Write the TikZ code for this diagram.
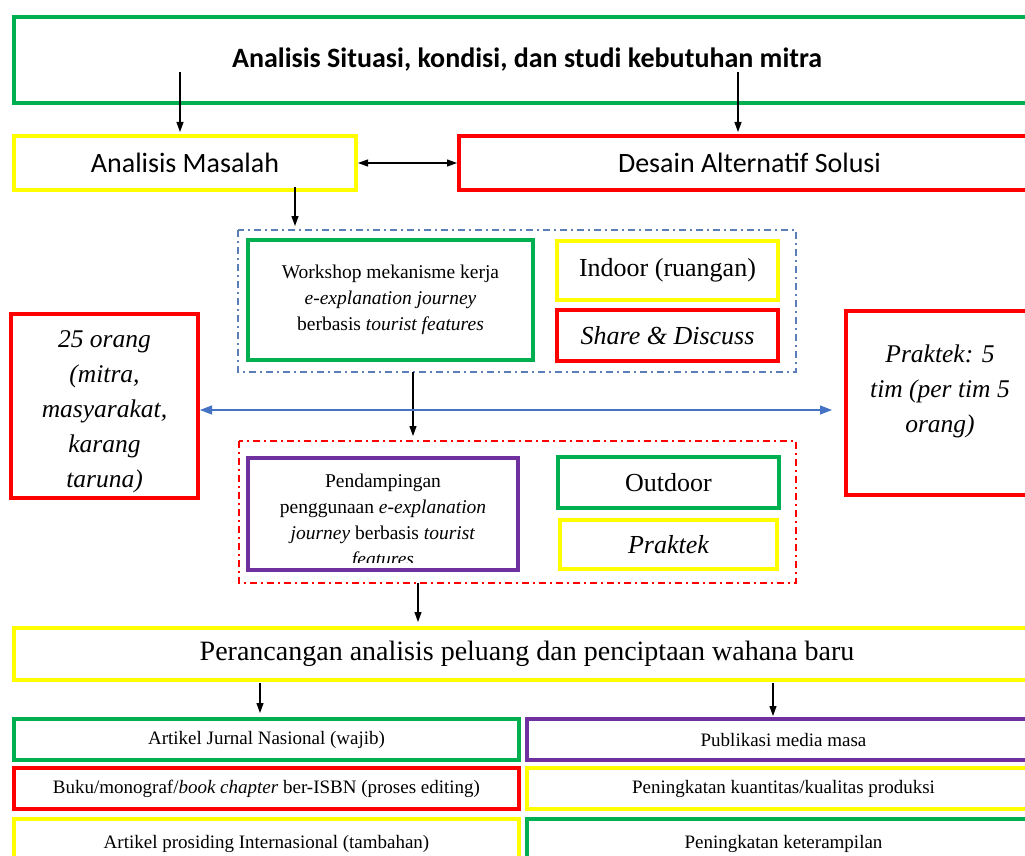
\documentclass[tikz,border=0pt]{standalone}
\usepackage{fontspec}
\setmainfont{Liberation Serif}
\newfontfamily\calfont{Carlito}
\usetikzlibrary{arrows.meta,calc}
\definecolor{cgreen}{HTML}{00B050}
\definecolor{cyellow}{HTML}{FFFF00}
\definecolor{cred}{HTML}{FF0000}
\definecolor{cpurple}{HTML}{7030A0}
\definecolor{cblue}{HTML}{4472C4}
\definecolor{cdblue}{HTML}{5B7DB8}
\tikzset{
  box/.style={draw=#1, line width=4pt, rectangle, inner sep=0pt, outer sep=0pt, align=center},
  dashbox/.style={draw=#1, line width=1.2pt, dash pattern=on 7pt off 4pt on 2pt off 4pt},
  arr/.style={-{Triangle[length=10pt,width=7pt]}, line width=1.1pt, black},
  darr/.style={{Triangle[length=10pt,width=7pt]}-{Triangle[length=10pt,width=7pt]}, line width=1.1pt, black},
  barr/.style={{Triangle[length=12pt,width=9pt]}-{Triangle[length=12pt,width=9pt]}, line width=1.1pt, cblue},
  tnr/.style={font=\fontsize{19.5}{26}\selectfont},
  mid/.style={font=\fontsize{26}{30}\selectfont},
  midit/.style={font=\itshape\fontsize{26}{30}\selectfont},
  bigit/.style={font=\itshape\fontsize{25.5}{35}\selectfont},
  small/.style={font=\fontsize{19}{22}\selectfont},
  cal/.style={font=\calfont\fontsize{28}{32}\selectfont},
}
\begin{document}
\begin{tikzpicture}[x=1pt,y=-1pt]
\clip (0,0) rectangle (1025,856);
\fill[white] (0,0) rectangle (1025,856);
% top
\node[box=cgreen, minimum width=1026pt, minimum height=86pt, font=\calfont\bfseries\fontsize{28}{30}\selectfont] (top) at (527,60) {Analisis Situasi, kondisi, dan studi kebutuhan mitra};
\node[box=cyellow, minimum width=342pt, minimum height=54pt, cal] (masalah) at (185,163) {Analisis Masalah};
\node[box=cred, minimum width=581pt, minimum height=54pt, cal] (desain) at (749.5,163) {Desain Alternatif Solusi};
% blue dashed group
\draw[dashbox=cdblue] (238,230) rectangle (796,372);
\coordinate (bluetop) at (295,230);
\coordinate (bluebot) at (413,372);
\node[box=cgreen, minimum width=285pt, minimum height=120pt, tnr] (workshop) at (390.5,300) {Workshop mekanisme kerja\\\textit{e-explanation journey}\\berbasis \textit{tourist features}};
\node[box=cyellow, minimum width=221pt, minimum height=59pt, mid] (indoor) at (667.5,270.5) {Indoor (ruangan)};
\node[box=cred, minimum width=221pt, minimum height=51pt, midit] (share) at (667.5,335.5) {Share \& Discuss};
% side boxes
\node[box=cred, minimum width=187pt, minimum height=184pt] (left) at (104.5,406) {};
\node[bigit, align=center] (lefttxt) at (104.5,412) {25 orang\\(mitra,\\masyarakat,\\karang\\taruna)};
\node[box=cred, minimum width=194pt, minimum height=184pt] (right) at (943,403) {};
\node[bigit, align=center] (righttxt) at (940,391) {Praktek: 5\\tim (per tim 5\\orang)};
% red dashed group
\draw[dashbox=cred] (239,441) rectangle (796,583);
\coordinate (redtop) at (413,441);
\coordinate (redbot) at (418,583);
\node[box=cpurple, minimum width=270pt, minimum height=112pt] (pend) at (383,514) {};
\begin{scope}
\clip (250,460) rectangle (516,562);
\node[tnr, align=center] (pendtxt) at (383,522) {Pendampingan\\penggunaan \textit{e-explanation}\\\textit{journey} berbasis \textit{tourist}\\\textit{features}};
\end{scope}
\node[box=cgreen, minimum width=221pt, minimum height=51pt, mid] (outdoor) at (668.5,482.5) {Outdoor};
\node[box=cyellow, minimum width=217pt, minimum height=49pt, midit] (praktek) at (668.5,544.5) {Praktek};
% perancangan
\node[box=cyellow, minimum width=1026pt, minimum height=52pt, font=\fontsize{28}{32}\selectfont] (peran) at (527,654) {Perancangan analisis peluang dan penciptaan wahana baru};
% bottom rows
\node[box=cgreen, minimum width=505pt, minimum height=41pt, small] (b1) at (266.5,739.5) {\raisebox{-2pt}{Artikel Jurnal Nasional (wajib)}};
\node[box=cpurple, minimum width=513pt, minimum height=41pt, small] (b2) at (783.5,739.5) {\raisebox{-1pt}{Publikasi media masa}};
\node[box=cred, minimum width=505pt, minimum height=41pt, small] (b3) at (266.5,788.5) {\raisebox{-2pt}{Buku/monograf/\textit{book chapter} ber-ISBN (proses editing)}};
\node[box=cyellow, minimum width=513pt, minimum height=41pt, small] (b4) at (783.5,788.5) {\raisebox{-2pt}{Peningkatan kuantitas/kualitas produksi}};
\node[box=cyellow, minimum width=505pt, minimum height=50pt, small] (b5) at (266.5,844) {Artikel prosiding Internasional (tambahan)};
\node[box=cgreen, minimum width=513pt, minimum height=50pt, small] (b6) at (783.5,844) {Peningkatan keterampilan};
% arrows
\coordinate (a1) at (180,72);
\coordinate (a2) at (738,72);
\draw[arr] (a1) -- ($(a1 |- masalah.north)+(0,-4)$);
\draw[arr] (a2) -- ($(a2 |- desain.north)+(0,-4)$);
\draw[darr] ($(masalah.east)+(2,0)$) -- ($(desain.west)+(-2,0)$);
\draw[arr] ($(bluetop |- masalah.south)+(0,-3)$) -- ($(bluetop)+(0,-4)$);
\draw[arr] (bluebot) -- ($(redtop)+(0,-5)$);
\draw[arr] (redbot) -- ($(redbot |- peran.north)+(0,-6)$);
\coordinate (c1) at (260,683);
\coordinate (c2) at (773,683);
\draw[arr] (c1) -- ($(c1 |- b1.north)+(0,-6)$);
\draw[arr] (c2) -- ($(c2 |- b2.north)+(0,-3)$);
\draw[barr] ($(left.east)+(2,4)$) -- ($(right.west)+(-14,7)$);
\end{tikzpicture}
\end{document}
